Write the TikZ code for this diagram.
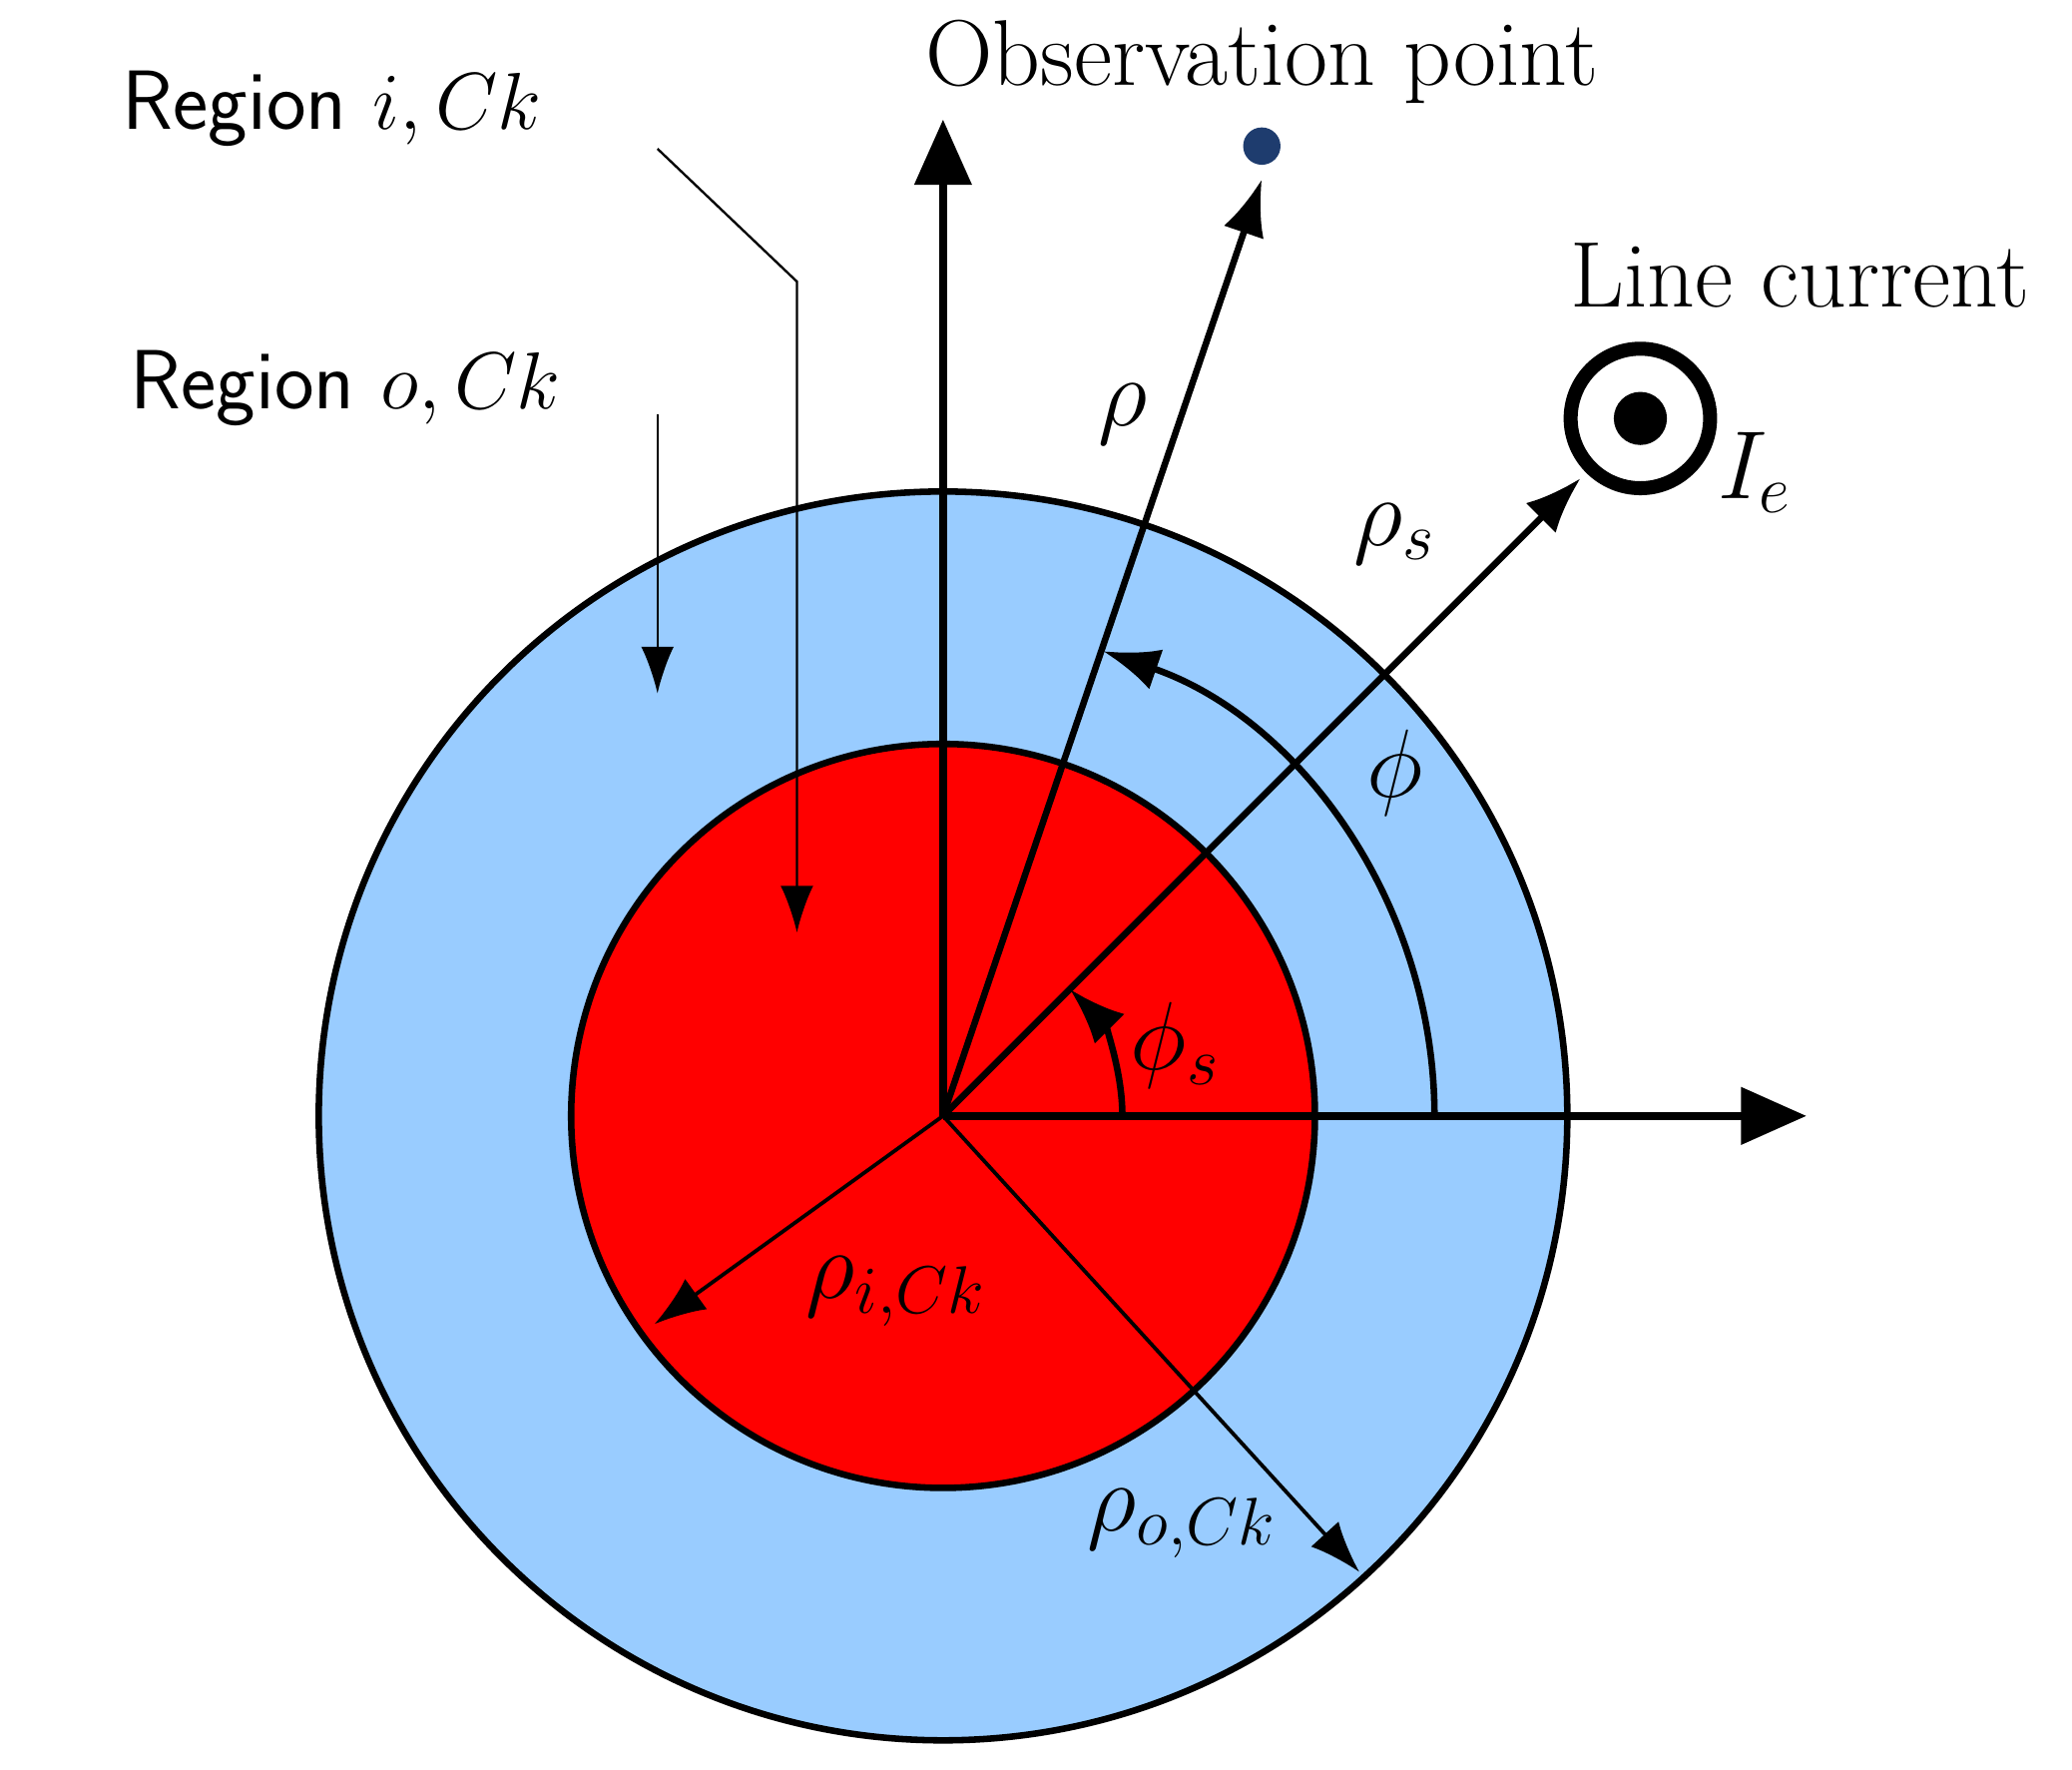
\documentclass[tikz,border=0pt]{standalone}
\usepackage{amsmath}
\usepackage{xcolor}
\usetikzlibrary{arrows.meta,calc,positioning}
\definecolor{outerblue}{RGB}{153,204,255}
\definecolor{obsdot}{RGB}{30,60,110}
\tikzset{
	axis/.style={line width=1.6pt,-{Triangle[length=14pt,width=12pt]}},
	vec/.style={line width=1.4pt,-{Latex[length=12pt,width=9pt]}},
	thinvec/.style={line width=0.8pt,-{Latex[length=11pt,width=8pt]}},
	lead/.style={line width=0.5pt,-{Latex[length=10pt,width=7pt]}},
	lbl/.style={font=\fontsize{20}{24}\selectfont},
	reg/.style={font=\fontsize{18}{22}\selectfont\sffamily}
}
\begin{document}
\begin{tikzpicture}
		\useasboundingbox (0,0) rectangle (15.6,13.32);
		\coordinate (O) at (7.1,4.92);
		\fill[outerblue,draw=black,line width=1.4pt] (O) circle (4.7);
		\fill[red,draw=black,line width=1.4pt] (O) circle (2.8);
		
		% axes
		\coordinate (ytip) at (7.1,12.42);
		\coordinate (xtip) at (13.6,4.92);
		\draw[axis] (O) -- (ytip);
		\draw[axis] (O) -- (xtip);
		
		% observation point and line current
		\node[circle,fill=obsdot,inner sep=0pt,minimum size=8pt] (obs) at (9.5,12.22) {};
		\node[lbl,above=0.05 of obs] (obstext) {Observation point};
		\coordinate (rhotip) at (9.5,11.97);
		\draw[vec] (O) -- (rhotip);
		\node[circle,draw,line width=3pt,minimum size=1.05cm] (cur) at (12.35,10.17) {};
		\fill (cur.center) circle (0.2);
		\node[lbl] (curtext) at (13.55,11.25) {Line current};
		\node[lbl,right=0.05 of cur.south east] (Ie) {$I_e$};
		\coordinate (rhostip) at (11.9,9.72);
		\draw[vec] (O) -- (rhostip);
		\node[lbl] (rho) at (8.45,10.2) {$\rho$};
		\node[lbl] (rhos) at (10.5,9.3) {$\rho_s$};
		
		% angles
		\draw[vec] ($(O)+(0:3.7)$) arc (0:71:3.7);
		\node[lbl] (phi) at (10.5,7.5) {$\phi$};
		\draw[vec] ($(O)+(0:1.35)$) arc (0:45:1.35);
		\node[lbl] (phis) at (8.85,5.45) {$\phi_s$};
		
		% radii
		\draw[thinvec] (O) -- ++(215.8:2.68) coordinate (ritip);
		\node[lbl] (rhoi) at (6.75,3.6) {$\rho_{i,Ck}$};
		\draw[thinvec] (O) -- ++(-47.6:4.65) coordinate (rotip);
		\node[lbl] (rhoo) at (8.9,1.85) {$\rho_{o,Ck}$};
		
		% region labels
		\node[reg] (regi) at (2.5,12.5) {Region $i,Ck$};
		\node[reg] (rego) at (2.6,10.4) {Region $o,Ck$};
		\draw[lead] (4.95,12.2) -- (6.0,11.2) -- (6.0,6.3);
		\draw[lead] (4.95,10.2) -- (4.95,8.1);
	\end{tikzpicture}
\end{document}
